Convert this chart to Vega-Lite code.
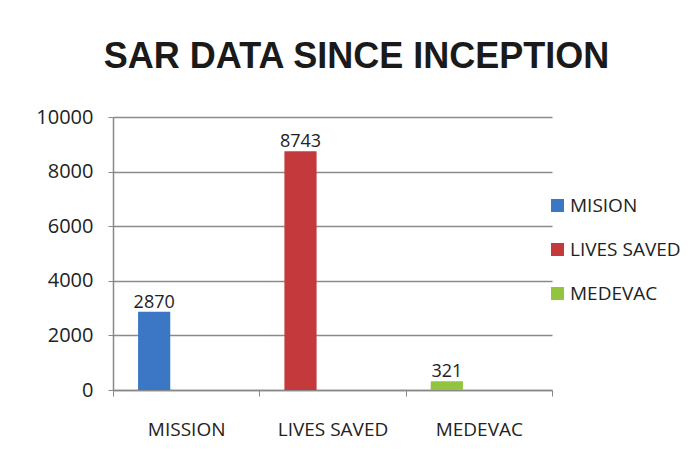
{
  "$schema": "https://vega.github.io/schema/vega-lite/v6.json",
  "width": 439,
  "height": 273,
  "autosize": {"type": "none"},
  "padding": {"left": 113, "top": 117, "right": 141, "bottom": 78},
  "background": "white",
  "config": {"view": {"stroke": null}},
  "title": {
    "text": "SAR DATA SINCE INCEPTION",
    "font": "Liberation Sans",
    "fontSize": 36,
    "fontWeight": "bold",
    "color": "#1a1a1a",
    "anchor": "middle",
    "dx": 24,
    "offset": 3,
    "baseline": "alphabetic"
  },
  "data": {
    "values": [
      {"category": "MISSION", "series": "MISION", "value": 2870},
      {"category": "LIVES SAVED", "series": "LIVES SAVED", "value": 8743},
      {"category": "MEDEVAC", "series": "MEDEVAC", "value": 321}
    ]
  },
  "encoding": {
    "x": {
      "field": "category",
      "type": "nominal",
      "sort": ["MISSION", "LIVES SAVED", "MEDEVAC"],
      "scale": {"paddingInner": 0, "paddingOuter": 0},
      "axis": {
        "title": null,
        "labelAngle": 0,
        "labelFont": "Open Sans",
        "labelFontSize": 19,
        "labelColor": "#222222",
        "labelPadding": 24,
        "tickBand": "extent",
        "tickSize": 6,
        "tickColor": "#888888",
        "domainColor": "#888888",
        "domainWidth": 1.5,
        "grid": false
      }
    },
    "y": {
      "field": "value",
      "type": "quantitative",
      "scale": {"domain": [0, 10000]},
      "axis": {
        "title": null,
        "values": [0, 2000, 4000, 6000, 8000, 10000],
        "format": "d",
        "labelFont": "Open Sans",
        "labelFontSize": 20,
        "labelColor": "#222222",
        "labelPadding": 15,
        "tickSize": 5,
        "tickColor": "#888888",
        "domainColor": "#888888",
        "domainWidth": 1.5,
        "gridColor": "#8a8a8a",
        "gridWidth": 1.5,
        "gridOpacity": 1
      }
    }
  },
  "layer": [
    {
      "mark": {"type": "bar", "xOffset": -32, "width": {"band": 0.22}},
      "encoding": {
        "color": {
          "field": "series",
          "type": "nominal",
          "scale": {
            "domain": ["MISION", "LIVES SAVED", "MEDEVAC"],
            "range": ["#3b77c4", "#c43a3c", "#92c43f"]
          },
          "legend": {
            "title": null,
            "orient": "none",
            "legendX": 435,
            "legendY": 79,
            "symbolType": "square",
            "symbolSize": 169,
            "symbolStrokeWidth": 0,
            "labelFont": "Open Sans",
            "labelFontSize": 19,
            "labelColor": "#222222",
            "labelOffset": 3,
            "rowPadding": 24,
            "padding": 0
          }
        }
      }
    },
    {
      "mark": {
        "type": "text",
        "xOffset": -32,
        "dy": -4,
        "baseline": "alphabetic",
        "font": "Open Sans",
        "fontSize": 18,
        "color": "#222222"
      },
      "encoding": {
        "text": {"field": "value", "type": "quantitative", "format": "d"}
      }
    }
  ]
}
